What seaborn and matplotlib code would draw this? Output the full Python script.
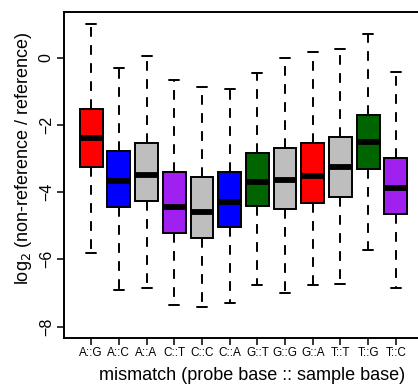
import numpy as np
import pandas as pd
import matplotlib
matplotlib.use("Agg")
import matplotlib.pyplot as plt
import seaborn as sns

# ---- data ----
categories = ["A::G", "A::C", "A::A", "C::T", "C::C", "C::A",
              "G::T", "G::G", "G::A", "T::T", "T::G", "T::C"]
whisker_low = [-5.82, -6.90, -6.84, -7.36, -7.43, -7.30, -6.76, -7.01, -6.76, -6.73, -5.71, -6.84]
q1          = [-3.24, -4.43, -4.27, -5.22, -5.35, -5.05, -4.41, -4.50, -4.33, -4.13, -3.32, -4.65]
median      = [-2.38, -3.66, -3.49, -4.45, -4.60, -4.30, -3.69, -3.64, -3.52, -3.24, -2.50, -3.89]
q3          = [-1.52, -2.78, -2.53, -3.41, -3.55, -3.40, -2.84, -2.69, -2.55, -2.37, -1.71, -2.97]
whisker_high = [0.99, -0.32, 0.06, -0.67, -0.86, -0.93, -0.46, -0.01, 0.16, 0.27, 0.71, -0.43]
box_colors = ["#FF0000", "#0000FF", "#BEBEBE", "#A020F0", "#BEBEBE", "#0000FF",
              "#006400", "#BEBEBE", "#FF0000", "#BEBEBE", "#006400", "#A020F0"]
y_ticks = [0, -2, -4, -6, -8]

# five-number summaries as long-form table (min, q1, median, q3, max per group)
rows = []
for c, lo, a, m, b, hi in zip(categories, whisker_low, q1, median, q3, whisker_high):
    for v in (lo, a, m, b, hi):
        rows.append({"mismatch": c, "value": v})
df = pd.DataFrame(rows)

sns.set_theme(style="ticks")
plt.rcParams["font.family"] = ["Liberation Sans", "DejaVu Sans"]
plt.rcParams["lines.scale_dashes"] = False
plt.rcParams["axes.unicode_minus"] = True

fig = plt.figure(figsize=(4.18, 3.86), dpi=100)
ax = fig.add_axes([64 / 418, 48 / 386, 359 / 418, 326 / 386])

sns.boxplot(
    data=df, x="mismatch", y="value", hue="mismatch",
    order=categories, hue_order=categories,
    palette=dict(zip(categories, box_colors)),
    saturation=1, whis=np.inf, width=0.82, dodge=False, legend=False,
    linecolor="black", linewidth=1.4, ax=ax,
    whiskerprops={"linestyle": (0, (7.0, 6.0)), "linewidth": 1.4},
    capprops={"linewidth": 1.4},
    medianprops={"linewidth": 4.2, "color": "black"},
    capwidths=0.36,
)

ax.set_xlim(-0.98, 11.98)
ax.set_ylim(-8.34, 1.36)
ax.set_yticks(y_ticks)
ax.set_yticklabels([f"{t}".replace("-", "\u2212") for t in y_ticks],
                   rotation=90, va="center", fontsize=11.5)
ax.set_xticks(range(len(categories)))
ax.set_xticklabels(categories, fontsize=8.5)

for s in ax.spines.values():
    s.set_visible(True)
    s.set_color("black")
    s.set_linewidth(1.4)

ax.tick_params(axis="both", direction="out", length=4.8, width=1.1, color="black",
               labelcolor="black")
ax.tick_params(axis="x", pad=2.0)
ax.tick_params(axis="y", pad=2.5)
ax.grid(False)

ax.set_xlabel("mismatch (probe base :: sample base)", fontsize=13, color="black")
ax.xaxis.label.set_verticalalignment("center")
ax.xaxis.set_label_coords((252 - 64) / 359, (338 - 376) / 326)
ax.set_ylabel(r"log$_2$ (non-reference / reference)", fontsize=13, color="black")
ax.yaxis.label.set_verticalalignment("center")
ax.yaxis.set_label_coords((23 - 64) / 359, (338 - 158) / 326)

fig.savefig("out.png", dpi=100)
